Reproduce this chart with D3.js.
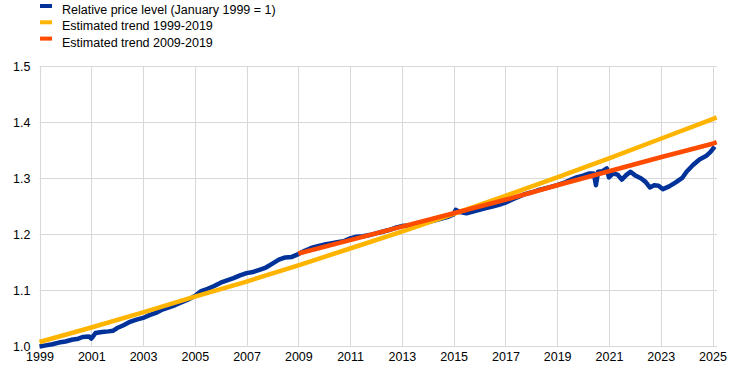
<!DOCTYPE html>
<html><head><meta charset="utf-8">
<script src="https://cdn.jsdelivr.net/npm/d3@7"></script>
<style>
html,body{margin:0;padding:0;background:#fff;}
svg{display:block;font-family:"Liberation Sans",Arial,sans-serif;}
</style></head>
<body><svg id="chart" width="745" height="373"></svg>
<script>
// Relative price level (January 1999 = 1)
const priceMonths = ["1999-01","1999-04","1999-07","1999-10","2000-01","2000-04","2000-07","2000-09","2000-12","2001-01","2001-03","2001-06","2001-09","2001-11",
"2002-01","2002-04","2002-07","2002-10","2003-01","2003-04","2003-07","2003-10","2004-01","2004-04","2004-07","2004-10",
"2005-01","2005-04","2005-07","2005-10","2006-01","2006-04","2006-07","2006-10","2007-01","2007-04","2007-07","2007-10",
"2008-01","2008-04","2008-07","2008-10","2009-01","2009-04","2009-07","2009-10","2010-01","2010-04","2010-07","2010-10",
"2011-01","2011-04","2011-07","2011-10","2012-01","2012-04","2012-07","2012-10","2013-01","2013-04","2013-07","2013-10",
"2014-01","2014-04","2014-07","2014-10","2015-01","2015-02","2015-04","2015-07","2015-10","2016-01","2016-04","2016-07","2016-10",
"2017-01","2017-04","2017-07","2017-10","2018-01","2018-04","2018-07","2018-10","2019-01","2019-04","2019-07","2019-10",
"2020-01","2020-04","2020-06","2020-07","2020-08","2020-10","2020-12","2021-01","2021-03","2021-05","2021-07","2021-09","2021-11",
"2022-01","2022-04","2022-06","2022-08","2022-10","2022-12","2023-02","2023-05","2023-08","2023-11",
"2024-01","2024-04","2024-07","2024-10","2024-12","2025-02"];
const priceValues = [1.000,1.002,1.004,1.007,1.009,1.012,1.014,1.017,1.018,1.014,1.024,1.026,1.027,1.028,
1.033,1.038,1.044,1.048,1.051,1.056,1.060,1.066,1.070,1.074,1.079,1.084,
1.090,1.099,1.103,1.108,1.114,1.118,1.122,1.127,1.131,1.133,1.137,1.141,
1.148,1.155,1.159,1.160,1.165,1.171,1.176,1.179,1.182,1.184,1.186,1.188,
1.193,1.196,1.197,1.199,1.202,1.205,1.208,1.212,1.215,1.216,1.218,1.220,
1.222,1.225,1.228,1.231,1.236,1.244,1.240,1.238,1.241,1.244,1.247,1.250,1.253,
1.257,1.262,1.267,1.272,1.275,1.279,1.282,1.285,1.288,1.292,1.297,1.302,
1.305,1.309,1.309,1.288,1.312,1.313,1.318,1.302,1.309,1.307,1.298,1.306,1.312,
1.306,1.300,1.294,1.284,1.288,1.287,1.281,1.286,1.293,1.301,
1.312,1.324,1.334,1.340,1.347,1.357];

// Estimated trend 1999-2019
const trendAMonths = ["1999-01","2001-01","2003-01","2005-01","2007-01","2009-01","2011-01","2013-01","2015-01","2017-01","2019-01","2021-01","2023-01","2025-01","2025-03"];
const trendAValues = [1.008,1.034,1.061,1.089,1.116,1.145,1.175,1.205,1.237,1.269,1.302,1.336,1.371,1.406,1.409];

// Estimated trend 2009-2019
const trendBMonths = ["2009-01","2011-01","2013-01","2015-01","2017-01","2019-01","2021-01","2023-01","2025-01","2025-03"];
const trendBValues = [1.166,1.190,1.214,1.238,1.262,1.288,1.313,1.338,1.362,1.365];

const yTicks = [1.0,1.1,1.2,1.3,1.4,1.5];
const xTickYears = [1999,2001,2003,2005,2007,2009,2011,2013,2015,2017,2019,2021,2023,2025];

const legendLabels = ["Relative price level (January 1999 = 1)","Estimated trend 1999-2019","Estimated trend 2009-2019"];
const colors = ["#003299","#ffb400","#ff4b00"];

const parse = d3.timeParse("%Y-%m");
const svg = d3.select("#chart");

const x = d3.scaleTime().domain([new Date(1999,0,1), new Date(2025,0,1)]).range([39.5, 712.5]);
const y = d3.scaleLinear().domain([1.0,1.5]).range([346.5, 66.5]);

const gridColor = "#d9d9d9";
// vertical grid
svg.append("g").selectAll("line").data(xTickYears).join("line")
  .attr("x1", d => Math.round(x(new Date(d,0,1)))+0.5).attr("x2", d => Math.round(x(new Date(d,0,1)))+0.5)
  .attr("y1", y(1.5)).attr("y2", y(1.0))
  .attr("stroke", gridColor).attr("stroke-width",1);
// horizontal grid
svg.append("g").selectAll("line").data(yTicks).join("line")
  .attr("x1", x.range()[0]).attr("x2", x.range()[1]+4.5)
  .attr("y1", d => y(d)).attr("y2", d => y(d))
  .attr("stroke", gridColor).attr("stroke-width",1);

// y axis labels
const yAxis = d3.axisLeft(y).tickValues(yTicks).tickFormat(d3.format(".1f")).tickSize(0).tickPadding(9);
const gy = svg.append("g").attr("transform", `translate(${x.range()[0]},0)`).call(yAxis);
gy.select(".domain").remove();
gy.selectAll("text").attr("font-size", "12.5px").attr("fill","#000").attr("font-family","Liberation Sans, Arial, sans-serif");

// x axis labels
const xAxis = d3.axisBottom(x).tickValues(xTickYears.map(d => new Date(d,0,1))).tickFormat(d3.timeFormat("%Y")).tickSize(0).tickPadding(6);
const gx = svg.append("g").attr("transform", `translate(0,${y(1.0)})`).call(xAxis);
gx.select(".domain").remove();
gx.selectAll("text").attr("font-size", "12.5px").attr("fill","#000").attr("font-family","Liberation Sans, Arial, sans-serif");

const line = d3.line().x(d => x(d[0])).y(d => y(d[1]));
const series = [
  priceMonths.map((m,i) => [parse(m), priceValues[i]]),
  trendAMonths.map((m,i) => [parse(m), trendAValues[i]]),
  trendBMonths.map((m,i) => [parse(m), trendBValues[i]])
];
series.forEach((s,i) => {
  svg.append("path").datum(s).attr("d", line)
    .attr("fill","none").attr("stroke", colors[i]).attr("stroke-width", 4.5)
    .attr("stroke-linejoin","round");
});

// legend
const lg = svg.append("g");
legendLabels.forEach((t,i) => {
  const base = 14 + i*16.3;
  lg.append("rect").attr("x", 40).attr("y", base - 10).attr("width", 12).attr("height", 4).attr("fill", colors[i]);
  lg.append("text").attr("x", 62).attr("y", base).attr("font-size","12.5px").attr("fill","#000").text(t);
});
</script></body></html>
